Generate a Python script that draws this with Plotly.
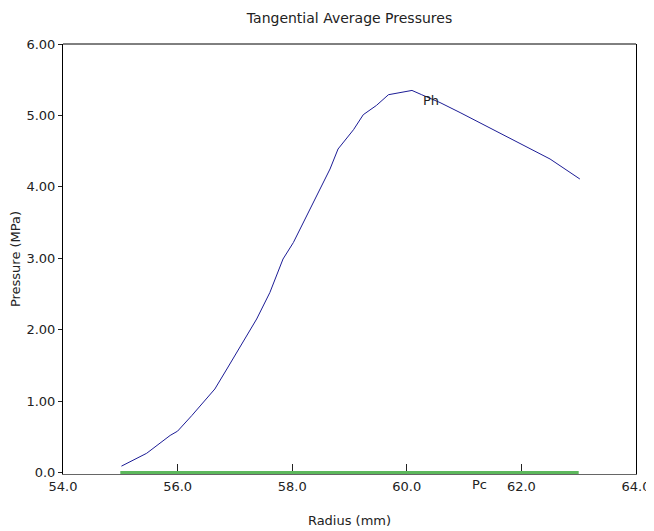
import plotly.graph_objects as go

# Data
radius_ph = [55.02, 55.46, 55.87, 56.0, 56.25, 56.65, 56.86, 57.15, 57.38, 57.61, 57.84,
             58.02, 58.37, 58.66, 58.80, 59.07, 59.24, 59.47, 59.68, 59.88, 60.09,
             60.26, 60.58, 60.93, 61.51, 61.86, 62.21, 62.50, 63.02]
pressure_ph = [0.09, 0.27, 0.52, 0.58, 0.80, 1.17, 1.45, 1.83, 2.15, 2.52, 2.99,
               3.22, 3.78, 4.25, 4.53, 4.80, 5.01, 5.14, 5.29, 5.32, 5.35,
               5.29, 5.18, 5.04, 4.80, 4.66, 4.52, 4.39, 4.11]
radius_pc = [55.0, 63.0]
pressure_pc = [0.0, 0.0]

x_ticks = [54, 56, 58, 60, 62, 64]
x_tick_labels = ["54.0", "56.0", "58.0", "60.0", "62.0", "64.0"]
y_ticks = [0, 1, 2, 3, 4, 5, 6]
y_tick_labels = ["0.0", "1.00", "2.00", "3.00", "4.00", "5.00", "6.00"]

FONT = "DejaVu Sans, Liberation Sans, Arial, sans-serif"
FS = 13

fig = go.Figure()
fig.add_trace(go.Scatter(x=radius_pc, y=pressure_pc, mode="lines",
                         line=dict(color="#5cb85c", width=3), name="Pc",
                         showlegend=False))
fig.add_trace(go.Scatter(x=radius_ph, y=pressure_ph, mode="lines",
                         line=dict(color="#1c1c96", width=1), name="Ph",
                         showlegend=False))

fig.add_annotation(x=60.42, y=5.21, text="Ph", showarrow=False,
                   font=dict(family=FONT, size=FS, color="#222"))
fig.add_annotation(x=61.26, xref="x", y=0, yref="paper", yanchor="middle",
                   yshift=-10, text="Pc", showarrow=False,
                   font=dict(family=FONT, size=FS, color="#222"))

fig.add_shape(type="line", xref="paper", yref="paper", x0=0, x1=1, y0=1, y1=1,
              line=dict(color="black", width=1))

fig.update_layout(
    width=646, height=523,
    margin=dict(l=55, r=18, t=36, b=57, autoexpand=False),
    paper_bgcolor="white", plot_bgcolor="white",
    font=dict(family=FONT, size=FS, color="#222"),
    title=dict(text="Tangential Average Pressures", x=(55 + 286.5) / 646, xanchor="center",
               y=1 - 10 / 523, yanchor="middle", font=dict(size=14, family=FONT, color="#222")),
    showlegend=False,
    xaxis=dict(range=[54, 64], tickvals=x_ticks, ticktext=x_tick_labels,
               ticks="inside", ticklen=10, tickcolor="#222", tickwidth=1,
               showline=True, linecolor="#666", linewidth=1, mirror=False,
               showgrid=False, zeroline=False, layer="below traces", automargin=False,
               title=dict(text="Radius (mm)", standoff=23, font=dict(size=FS))),
    yaxis=dict(range=[-0.02, 6], tickvals=y_ticks, ticktext=y_tick_labels,
               ticks="outside", ticklen=4, tickcolor="#222", tickwidth=1,
               showline=True, linecolor="black", linewidth=1, mirror=True,
               showgrid=False, zeroline=False, layer="below traces", automargin=False,
               title=dict(text="Pressure (MPa)", standoff=6, font=dict(size=FS))),
)

fig.write_html("out.html")
